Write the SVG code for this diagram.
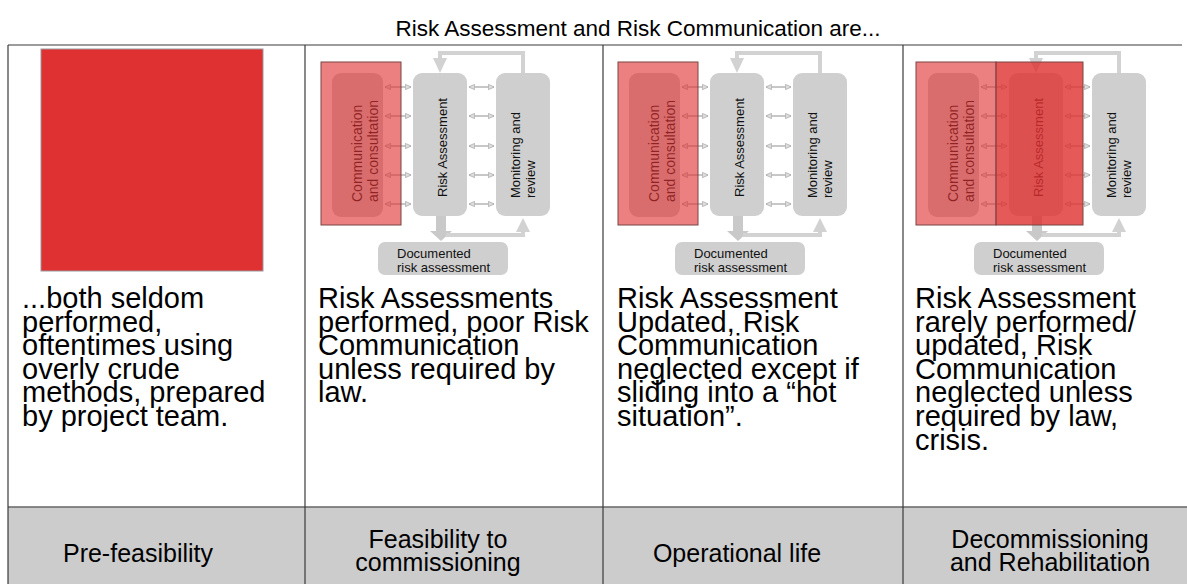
<svg xmlns="http://www.w3.org/2000/svg" width="1187" height="584" viewBox="0 0 1187 584">
<style>
.t{font-family:"Liberation Sans",Arial,sans-serif;fill:#000}
.title{font-size:22.5px}
.big{font-size:29px}
.lab{font-size:25px;text-anchor:middle}
.box{fill:#cfcfcf}
.bt{font-family:"Liberation Sans",Arial,sans-serif;fill:#111;font-size:13px}
.bt14{font-size:14px}
.conn{fill:none;stroke:#d2d2d2;stroke-width:4}
.cf{fill:#d2d2d2}
.sa{stroke:#a9a9a9;stroke-width:1.3;marker-start:url(#ah);marker-end:url(#ah)}
.grid{stroke:#3a3a3a;stroke-width:1.2;fill:none}
.ov{fill:#e03030;fill-opacity:0.61;stroke:#7a4545;stroke-width:1}
.ov2{fill:#e03030;fill-opacity:0.8;stroke:#7a4545;stroke-width:1}
</style>
<defs>
<marker id="ah" viewBox="0 0 8 8" refX="7.5" refY="4" markerWidth="6" markerHeight="6" orient="auto-start-reverse" markerUnits="userSpaceOnUse"><path d="M0,0.5 L8,4 L0,7.5 z" fill="#dedede" stroke="#a9a9a9" stroke-width="1"/></marker>
<g id="flow">
  <g id="ra-node"><rect class="box" x="413" y="73" width="54" height="143" rx="9"/><text class="bt" x="447" y="197" transform="rotate(-90 447 197)">Risk Assessment</text></g>
  <g id="comm-node"><rect class="box" x="332" y="73" width="51" height="144" rx="9"/><text class="bt bt14" x="362" y="202" transform="rotate(-90 362 202)">Communication</text><text class="bt bt14" x="378" y="202" transform="rotate(-90 378 202)">and consultation</text></g>
  <g id="mon-node"><rect class="box" x="496" y="73" width="54" height="143" rx="9"/><text class="bt" x="520" y="198" transform="rotate(-90 520 198)">Monitoring and</text><text class="bt" x="535" y="198" transform="rotate(-90 535 198)">review</text></g>
  <g id="doc-node"><rect class="box" x="378" y="242" width="130" height="33" rx="7"/><text class="bt" x="397" y="258">Documented</text><text class="bt" x="397" y="272">risk assessment</text></g>
  <g id="flow-connectors">
    <path class="conn" d="M523,73 V53 H440 V60"/>
    <path class="cf" d="M433,58 L447,58 L440,73 z"/>
    <path fill="#c9c9c9" d="M436,216 H446 V231 H452 L441,241 L430,231 H436 z"/>
    <path class="conn" d="M446,235 H523 V230"/>
    <path class="cf" d="M516,232 L530,232 L523,218 z"/>
    <line class="sa" x1="385" y1="87" x2="411" y2="87"/>
    <line class="sa" x1="385" y1="116" x2="411" y2="116"/>
    <line class="sa" x1="385" y1="146" x2="411" y2="146"/>
    <line class="sa" x1="385" y1="175" x2="411" y2="175"/>
    <line class="sa" x1="385" y1="204" x2="411" y2="204"/>
    <line class="sa" x1="469" y1="87" x2="494" y2="87"/>
    <line class="sa" x1="469" y1="116" x2="494" y2="116"/>
    <line class="sa" x1="469" y1="146" x2="494" y2="146"/>
    <line class="sa" x1="469" y1="175" x2="494" y2="175"/>
    <line class="sa" x1="469" y1="204" x2="494" y2="204"/>
  </g>
</g>
</defs>

<text class="t title" x="638" y="36" text-anchor="middle">Risk Assessment and Risk Communication are...</text>

<g id="table">
  <rect x="8" y="507" width="1179" height="77" fill="#cccccc"/>
  <line class="grid" x1="8" y1="45" x2="1182" y2="45"/>
  <line x1="8" y1="507" x2="1187" y2="507" stroke="#666" stroke-width="1.5"/>
  <line class="grid" x1="8" y1="45" x2="8" y2="584"/>
  <line class="grid" x1="305" y1="45" x2="305" y2="584"/>
  <line class="grid" x1="603" y1="45" x2="603" y2="584"/>
  <line class="grid" x1="903" y1="45" x2="903" y2="584"/>
</g>

<g id="panel1">
  <rect x="41" y="49" width="222" height="222" fill="#e03132" stroke="#999" stroke-width="1"/>
  <text class="t big" x="22" y="308"><tspan x="22">...both seldom</tspan><tspan x="22" dy="23.6">performed,</tspan><tspan x="22" dy="23.6">oftentimes using</tspan><tspan x="22" dy="23.6">overly crude</tspan><tspan x="22" dy="23.6">methods, prepared</tspan><tspan x="22" dy="23.6">by project team.</tspan></text>
</g>

<g id="panel2">
  <use href="#flow"/>
  <rect id="p2-overlay" class="ov" x="321" y="62" width="80" height="163"/>
  <text class="t big" x="318" y="308"><tspan x="318">Risk Assessments</tspan><tspan x="318" dy="23.6">performed, poor Risk</tspan><tspan x="318" dy="23.6">Communication</tspan><tspan x="318" dy="23.6">unless required by</tspan><tspan x="318" dy="23.6">law.</tspan></text>
</g>

<g id="panel3">
  <g transform="translate(297,0)">
    <use href="#flow"/>
    <rect id="p3-overlay" class="ov" x="321" y="62" width="80" height="163"/>
  </g>
  <text class="t big" x="617" y="308"><tspan x="617">Risk Assessment</tspan><tspan x="617" dy="23.6">Updated, Risk</tspan><tspan x="617" dy="23.6">Communication</tspan><tspan x="617" dy="23.6">neglected except if</tspan><tspan x="617" dy="23.6">sliding into a “hot</tspan><tspan x="617" dy="23.6">situation”.</tspan></text>
</g>

<g id="panel4">
  <g transform="translate(596,0)">
    <use href="#flow"/>
    <rect id="p4-overlay-a" class="ov" x="320" y="62" width="80" height="163"/>
    <rect id="p4-overlay-b" class="ov2" x="400" y="62" width="87" height="163"/>
  </g>
  <text class="t big" x="915" y="308"><tspan x="915">Risk Assessment</tspan><tspan x="915" dy="23.6">rarely performed/</tspan><tspan x="915" dy="23.6">updated, Risk</tspan><tspan x="915" dy="23.6">Communication</tspan><tspan x="915" dy="23.6">neglected unless</tspan><tspan x="915" dy="23.6">required by law,</tspan><tspan x="915" dy="23.6">crisis.</tspan></text>
</g>

<g id="labels">
  <text class="t lab" x="138" y="562">Pre-feasibility</text>
  <text class="t lab" x="438" y="548"><tspan x="438">Feasibility to</tspan><tspan x="438" dy="23">commissioning</tspan></text>
  <text class="t lab" x="737" y="562">Operational life</text>
  <text class="t lab" x="1050" y="548"><tspan x="1050">Decommissioning</tspan><tspan x="1050" dy="23">and Rehabilitation</tspan></text>
</g>
</svg>
